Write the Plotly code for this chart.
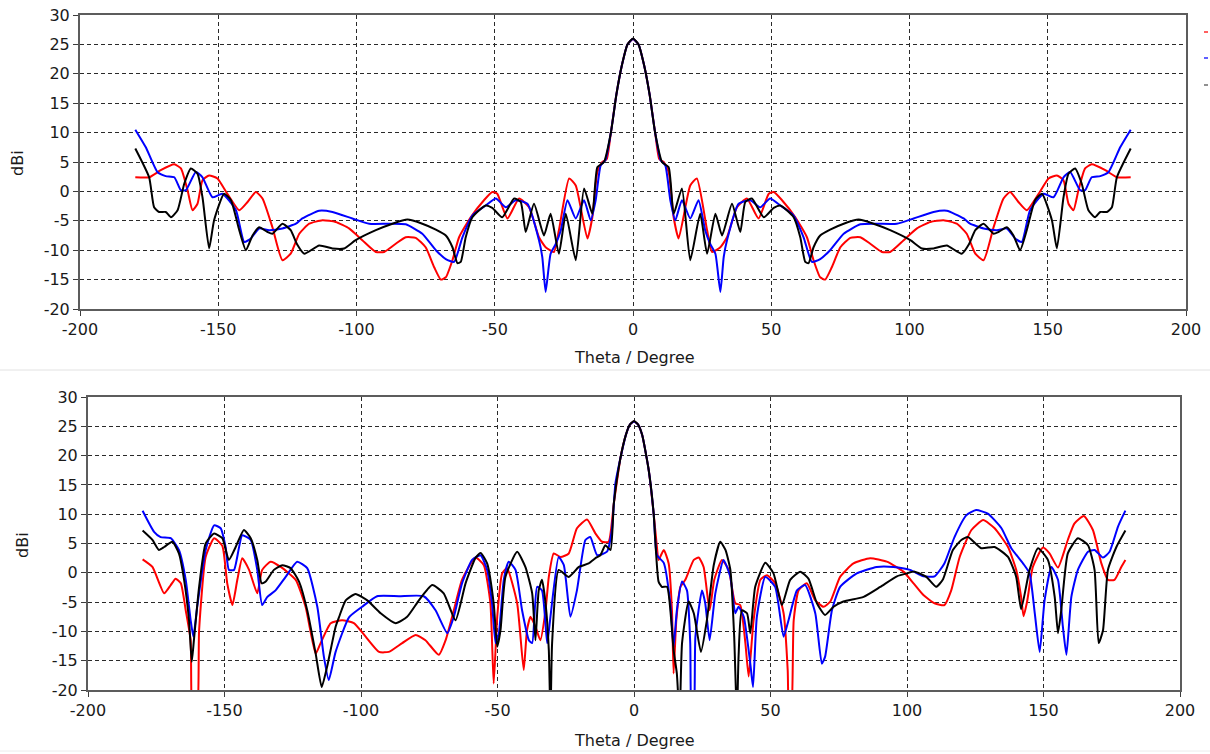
import plotly.graph_objects as go

# ---------------- data ----------------
x_ticks = [-200, -150, -100, -50, 0, 50, 100, 150, 200]
x_tick_labels = ["-200", "-150", "-100", "-50", "0", "50", "100", "150", "200"]
y_ticks = [-20, -15, -10, -5, 0, 5, 10, 15, 20, 25, 30]
y_tick_labels = ["-20", "-15", "-10", "-5", "0", "5", "10", "15", "20", "25", "30"]

# Top panel
top_red_theta = [-180, -175, -170.8, -165.9, -163.5, -161.1, -159.3, -157.5, -155.7, -153.3, -150.3, -146.7, -142.4, -139.4, -136.4, -134.0, -130.4, -126.8, -123.8, -120.7, -117.1, -112.3, -107.5, -102.7, -97.9, -93.0, -90.0, -85.8, -82.2, -78.6, -75.0, -71.9, -69.5, -67.7, -65.3, -62.9, -58.7, -53.9, -50.9, -49.1, -45.4, -41.2, -37.6, -34.0, -31.6, -28.6, -26.8, -23.1, -20.7, -16.5, -14.7, -12.9, -11.1, -9.5, -8, -6, -4, -2, 0,
                 2, 4, 6, 8, 9.5, 11.1, 12.9, 14.7, 16.5, 20.7, 23.1, 26.8, 28.6, 31.6, 34.0, 37.6, 41.2, 45.4, 49.1, 50.9, 53.9, 58.7, 62.9, 65.3, 67.7, 69.5, 71.9, 75.0, 78.6, 82.2, 85.8, 90.0, 93.0, 97.9, 102.7, 107.5, 112.3, 117.1, 120.7, 123.8, 126.8, 130.4, 134.0, 136.4, 139.4, 142.4, 146.7, 150.3, 153.3, 155.7, 157.5, 159.3, 161.1, 163.5, 165.9, 170.8, 175, 180]
top_red_dbi = [2.4, 2.4, 3.6, 4.6, 3.9, 0.2, -3.2, -2.1, 1.9, 2.7, 2.2, -0.4, -3.2, -1.8, -0.1, -1.2, -6.1, -11.7, -10.6, -7.2, -5.5, -4.9, -5.2, -6.3, -8.3, -10.3, -10.3, -8.9, -7.8, -7.9, -9.5, -12.9, -15.0, -14.6, -11.7, -7.8, -4.4, -1.5, -0.1, -0.4, -4.6, -1.2, -2.7, -7.8, -9.5, -10.3, -6.6, 2.2, 1.0, -8.0, -4.4, 3.3, 5.0, 5.5, 10, 16.5, 21.5, 25, 25.9,
               25, 21.5, 16.5, 10, 5.5, 5.0, 3.3, -4.4, -8.0, 1.0, 2.2, -6.6, -10.3, -9.5, -7.8, -2.7, -1.2, -4.6, -0.4, -0.1, -1.5, -4.4, -7.8, -11.7, -14.6, -15.0, -12.9, -9.5, -7.9, -7.8, -8.9, -10.3, -10.3, -8.3, -6.3, -5.2, -4.9, -5.5, -7.2, -10.6, -11.7, -6.1, -1.2, -0.1, -1.8, -3.2, -0.4, 2.2, 2.7, 1.9, -2.1, -3.2, 0.2, 3.9, 4.6, 3.6, 2.4, 2.4]

top_blue_theta = [-180, -176.2, -172.0, -169.0, -165.9, -163.5, -161.7, -158.1, -155.7, -152.1, -148.5, -143.6, -140.6, -138.2, -135.2, -131.6, -126.8, -121.9, -119.6, -113.5, -108.7, -101.5, -95.4, -88.2, -82.2, -76.2, -71.3, -67.7, -64.7, -61.7, -58.1, -53.3, -49.6, -46.0, -42.4, -38.2, -34.0, -32.8, -31.6, -29.8, -27.9, -26.1, -23.7, -20.7, -17.7, -15.3, -13.5, -11.7, -10, -8, -6, -4, -2, 0,
                  2, 4, 6, 8, 10, 11.7, 13.5, 15.3, 17.7, 20.7, 23.7, 26.1, 27.9, 29.8, 31.6, 32.8, 34.0, 38.2, 42.4, 46.0, 49.6, 53.3, 58.1, 61.7, 64.7, 67.7, 71.3, 76.2, 82.2, 88.2, 95.4, 101.5, 108.7, 113.5, 119.6, 121.9, 126.8, 131.6, 135.2, 138.2, 140.6, 143.6, 148.5, 152.1, 155.7, 158.1, 161.7, 163.5, 165.9, 169.0, 172.0, 176.2, 180]
top_blue_dbi = [10.5, 7.5, 3.3, 2.6, 2.4, 0.2, 0.2, 3.3, 2.4, -1.0, -0.4, -3.2, -8.6, -8.0, -6.3, -6.6, -6.3, -5.5, -4.6, -3.3, -3.5, -4.6, -5.5, -5.5, -5.6, -7.2, -10.0, -11.5, -12.0, -7.8, -4.1, -2.4, -1.2, -2.7, -1.5, -2.1, -8.3, -11.2, -17.1, -10.6, -8.9, -6.6, -1.5, -4.6, -1.5, -4.9, -1.5, 4.4, 5.3, 10, 16.5, 21.5, 25, 25.9,
                25, 21.5, 16.5, 10, 5.3, 4.4, -1.5, -4.9, -1.5, -4.6, -1.5, -6.6, -8.9, -10.6, -17.1, -11.2, -8.3, -2.1, -1.5, -2.7, -1.2, -2.4, -4.1, -7.8, -12.0, -11.5, -10.0, -7.2, -5.6, -5.5, -5.5, -4.6, -3.5, -3.3, -4.6, -5.5, -6.3, -6.6, -6.3, -8.0, -8.6, -3.2, -0.4, -1.0, 2.4, 3.3, 0.2, 0.2, 2.4, 2.6, 3.3, 7.5, 10.5]

top_black_theta = [-180, -175, -173.2, -171.4, -169, -167.1, -164.7, -162.3, -159.9, -157.5, -155.7, -153.3, -151.5, -147.9, -145.4, -142.4, -140.0, -137.6, -135.2, -132.2, -130.4, -126.8, -123.8, -121.5, -118.9, -113.5, -108.7, -104.5, -100.3, -93.0, -87.0, -81.6, -76.2, -71.3, -67.7, -65.3, -63.5, -62.3, -60.5, -58.1, -53.3, -50.9, -47.3, -43.0, -40.6, -38.8, -35.8, -32.2, -29.8, -26.8, -24.3, -20.7, -17.7, -14.7, -12.9, -10.5, -8, -6, -4, -2, 0,
                   2, 4, 6, 8, 10.5, 12.9, 14.7, 17.7, 20.7, 24.3, 26.8, 29.8, 32.2, 35.8, 38.8, 40.6, 43.0, 47.3, 50.9, 53.3, 58.1, 60.5, 62.3, 63.5, 65.3, 67.7, 71.3, 76.2, 81.6, 87.0, 93.0, 100.3, 104.5, 108.7, 113.5, 118.9, 121.5, 123.8, 126.8, 130.4, 132.2, 135.2, 137.6, 140.0, 142.4, 145.4, 147.9, 151.5, 153.3, 155.7, 157.5, 159.9, 162.3, 164.7, 167.1, 169, 171.4, 173.2, 175, 180]
top_black_dbi = [7.3, 2.4, -2.7, -3.5, -3.5, -4.4, -3.2, 1.3, 3.9, 3.0, -1.0, -9.7, -4.9, -0.4, -1.5, -6.6, -10.0, -7.5, -6.1, -6.9, -7.2, -5.5, -6.6, -9.0, -10.6, -9.2, -9.7, -9.7, -8.3, -6.6, -5.5, -4.8, -5.5, -6.5, -7.5, -9.5, -12.2, -12.0, -7.8, -4.4, -2.4, -2.8, -4.4, -1.2, -1.8, -6.9, -2.1, -7.5, -3.8, -10.6, -3.8, -11.7, 0.5, -3.8, 4.1, 5.0, 10, 16.5, 21.5, 25, 26.0,
                 25, 21.5, 16.5, 10, 5.0, 4.1, -3.8, 0.5, -11.7, -3.8, -10.6, -3.8, -7.5, -2.1, -6.9, -1.8, -1.2, -4.4, -2.8, -2.4, -4.4, -7.8, -12.0, -12.2, -9.5, -7.5, -6.5, -5.5, -4.8, -5.5, -6.6, -8.3, -9.7, -9.7, -9.2, -10.6, -9.0, -6.6, -5.5, -7.2, -6.9, -6.1, -7.5, -10.0, -6.6, -1.5, -0.4, -4.9, -9.7, -1.0, 3.0, 3.9, 1.3, -3.2, -4.4, -3.5, -3.5, -2.7, 2.4, 7.3]

# Bottom panel
bot_red_theta = [-180, -176.4, -172.1, -169.7, -167.9, -166.0, -164.2, -162.4, -161.6, -160.2, -159.3, -156.9, -153.8, -150.8, -149.0, -147.1, -145.3, -143.5, -141.0, -138.0, -136.2, -133.1, -129.4, -123.9, -120.3, -116.6, -114.8, -111.1, -106.9, -102.6, -98.3, -93.4, -89.8, -84.9, -80.0, -76.4, -71.5, -69.0, -66.0, -63.0, -58.1, -55.0, -52.6, -51.4, -50.1, -48.3, -46.5, -42.8, -40.4, -39.2, -37.9, -36.1, -34.3, -32.4, -31.2, -29.4, -26.9, -23.9, -20.9, -17.2, -14.1, -11.7, -9.3, -7.4, -5, -3, -1.5, 0,
                 1.5, 3, 5.4, 7.2, 8.4, 9.0, 10.9, 12.7, 13.9, 14.5, 15.5, 17.0, 18.8, 21.9, 23.7, 25.5, 27.7, 29.4, 32.2, 34.7, 37.1, 38.9, 40.8, 42.0, 43.8, 46.3, 48.7, 51.7, 54.8, 56.3, 56.9, 57.5, 58.5, 60.3, 63.3, 66.4, 69.4, 71.9, 75.5, 80.4, 86.5, 92.6, 98.7, 102.4, 106.0, 110.1, 113.7, 116.2, 119.3, 123.6, 127.9, 132.1, 137.0, 140.0, 141.8, 142.7, 144.0, 146.1, 149.8, 152.2, 155.3, 158.9, 161.3, 164.8, 168.1, 171.2, 173.6, 176.0, 178.5, 180]
bot_red_dbi = [2.3, 1.0, -3.5, -2.1, -1.0, -1.8, -6.4, -11.5, -25, -25, -9.8, 2.7, 5.9, 4.6, -1.8, -5.5, -1.2, 2.5, 0.5, -3.5, 0.5, 1.9, 1.0, -1.2, -5.8, -13.8, -12.0, -8.6, -8.1, -8.6, -10.9, -13.5, -13.5, -12.0, -10.6, -11.5, -14.0, -11.5, -6.4, -1.2, 2.6, 1.3, -5.2, -18.9, -7.5, -0.1, 0.8, -5.2, -16.6, -9.8, -7.5, -9.2, -11.5, -6.4, -0.7, 3.3, 2.7, 3.3, 7.6, 9.1, 6.7, 5.3, 5.3, 11.8, 19.5, 23.5, 25.3, 25.8,
               25.3, 23.5, 17.5, 10.1, 4.4, 2.2, 3.9, 1.6, -6.4, -17.2, -8.1, -2.4, -1.2, 2.2, 2.6, 1.0, -6.4, -1.2, 2.2, 0.5, -5.2, -5.5, -12.0, -17.7, -8.1, -1.2, -0.4, -1.8, -6.9, -16.6, -25, -25, -8.1, -3.0, -1.8, -4.7, -5.8, -4.9, -0.7, 1.6, 2.5, 1.9, 0.2, -1.8, -3.8, -5.2, -5.5, -3.0, 2.7, 7.3, 9.0, 7.6, 4.4, 0.5, -4.1, -7.4, -4.9, 1.0, 4.3, 3.3, 0.9, 5.6, 8.4, 9.7, 7.3, 1.6, -1.2, -1.2, 1.0, 2.2]

bot_blue_theta = [-180, -175.8, -173.4, -169.7, -166.7, -164.2, -162.4, -161.4, -160.0, -156.9, -153.8, -151.4, -149.6, -148.4, -146.5, -143.5, -140.4, -138.0, -136.2, -134.3, -131.3, -127.6, -123.4, -119.7, -116.0, -113.6, -111.8, -109.3, -104.4, -99.6, -94.1, -86.1, -77.0, -72.7, -68.4, -66.0, -63.0, -59.3, -56.2, -53.8, -52.0, -50.7, -49.5, -47.7, -45.9, -43.4, -41.0, -38.5, -37.3, -35.5, -33.7, -31.8, -30.6, -27.6, -25.7, -23.3, -20.9, -17.8, -16.0, -13.5, -9.9, -8.1, -6.8, -5, -3, -1.5, 0,
                  1.5, 3, 5.4, 7.2, 8.4, 10.9, 13.3, 14.5, 15.7, 17.6, 19.4, 20.6, 21.2, 21.8, 22.5, 24.9, 26.1, 27.7, 29.8, 32.8, 35.3, 37.1, 38.3, 40.2, 42.6, 43.6, 45.0, 48.1, 51.7, 54.8, 56.6, 59.7, 62.7, 66.4, 68.8, 70.0, 72.5, 75.5, 81.6, 88.9, 95.0, 101.1, 106.0, 110.1, 113.7, 117.4, 121.7, 125.3, 129.6, 134.6, 138.2, 142.5, 144.9, 146.8, 148.6, 150.4, 152.9, 155.3, 157.1, 158.4, 160.2, 162.6, 166.3, 168.7, 171.8, 174.2, 177.3, 180]
bot_blue_dbi = [10.6, 7.0, 6.1, 5.9, 3.9, -1.2, -8.1, -10.9, -5.8, 3.9, 8.1, 7.6, 4.4, 0.5, 0.5, 6.4, 5.6, 0.5, -5.5, -4.1, -3.0, -0.7, 1.9, 0.8, -5.8, -14.3, -18.3, -13.5, -7.6, -5.8, -4.0, -4.0, -4.0, -6.4, -10.3, -7.5, -1.8, 2.2, 3.0, 0.5, -5.2, -12.0, -10.3, -1.2, 1.9, 0.5, -6.4, -11.5, -12.0, -2.4, -3.0, -12.0, -7.5, 2.7, 1.3, -7.5, -3.0, 5.6, 6.1, 3.0, 3.6, 7.3, 15.3, 19.5, 23.5, 25.3, 25.8,
                25.3, 23.5, 17.5, 10.1, 3.0, 1.7, -5.2, -12.6, -6.4, -1.5, -3.0, -12.0, -25, -25, -10.9, -3.0, -5.2, -11.5, -3.5, 2.2, -0.7, -6.9, -5.8, -7.5, -15.5, -19.5, -7.5, -0.7, -2.4, -10.9, -8.1, -3.0, -2.1, -6.9, -15.5, -14.3, -6.4, -2.4, -0.1, 1.0, 1.0, 0.5, -0.6, -0.6, 1.6, 6.1, 9.8, 10.7, 10.1, 7.6, 4.2, 1.6, -0.1, -6.9, -13.5, -4.7, 1.0, -1.2, -9.2, -14.0, -4.1, 0.5, 3.6, 3.9, 2.6, 3.6, 7.9, 10.6]

bot_black_theta = [-180, -176.4, -174.0, -172.1, -169.1, -166.7, -164.8, -163.0, -162.0, -161.2, -159.3, -156.9, -153.8, -150.8, -148.4, -145.9, -142.9, -140.4, -138.0, -136.4, -134.9, -131.9, -128.8, -125.8, -122.7, -119.7, -116.6, -114.4, -112.4, -109.3, -108.0, -105.6, -102.0, -97.7, -92.8, -87.3, -83.1, -78.8, -73.9, -69.7, -65.4, -61.7, -58.1, -56.2, -53.8, -51.4, -50.1, -48.9, -47.1, -42.8, -39.8, -37.3, -36.1, -34.9, -33.7, -32.4, -31.2, -30.6, -30.0, -27.6, -23.9, -20.2, -16.6, -14.1, -12.3, -10.5, -8.6, -7.4, -5, -3, -1.5, 0,
                   1.5, 3, 5.4, 7.2, 8.0, 9.0, 10.2, 12.1, 14.5, 15.7, 16.7, 17.6, 20.0, 21.9, 24.5, 26.7, 29.2, 31.6, 33.5, 35.3, 36.7, 37.7, 38.3, 39.5, 41.4, 42.6, 44.4, 48.1, 51.1, 54.2, 57.2, 60.9, 63.9, 67.0, 70.0, 73.1, 76.7, 84.1, 90.2, 96.3, 99.9, 102.8, 107.1, 110.7, 113.2, 116.8, 119.9, 122.3, 127.2, 132.1, 137.0, 140.0, 141.8, 144.9, 148.0, 151.6, 154.1, 155.3, 156.5, 158.9, 162.6, 166.3, 168.7, 170.2, 171.8, 173.6, 176.7, 180]
bot_black_dbi = [7.2, 5.6, 3.9, 4.4, 5.3, 3.3, -1.2, -8.1, -15.2, -11.5, -2.4, 5.0, 6.7, 5.9, 2.2, 4.4, 7.3, 5.9, 2.2, -1.8, -1.5, 0.5, 1.3, 0.8, -1.5, -6.4, -13.8, -19.5, -16.0, -9.2, -7.5, -4.7, -3.6, -4.7, -6.9, -8.6, -7.5, -4.7, -2.1, -3.5, -8.1, -1.8, 2.5, 3.4, 1.6, -5.2, -12.6, -9.8, -0.7, 3.6, 1.0, -3.5, -11.5, -3.0, -1.2, -5.2, -13.2, -25, -12.0, 0.5, -0.7, 1.0, 1.6, 2.5, 3.0, 4.7, 3.9, 11.8, 19.5, 23.5, 25.3, 25.9,
                 25.3, 23.5, 17.5, 10.1, 4.0, -1.5, -2.4, -2.4, -13.2, -17.2, -25, -12.0, -4.9, -6.9, -13.5, -8.1, 1.3, 5.3, 3.9, 0.5, -10.9, -25, -14.3, -6.4, -6.9, -10.3, -2.4, 1.7, -0.1, -5.5, -1.2, 0.2, -1.0, -5.2, -7.2, -5.8, -4.9, -4.1, -2.4, -0.6, -0.1, 0.2, -0.7, -2.4, -1.1, 3.9, 5.6, 6.1, 4.2, 4.4, 2.7, -0.7, -6.2, 0.5, 4.2, 2.2, -4.1, -10.3, -6.4, 3.3, 5.9, 4.7, 0.5, -12.0, -9.8, 0.5, 4.4, 7.2]

for a, b in [(top_red_theta, top_red_dbi), (top_blue_theta, top_blue_dbi), (top_black_theta, top_black_dbi),
             (bot_red_theta, bot_red_dbi), (bot_blue_theta, bot_blue_dbi), (bot_black_theta, bot_black_dbi)]:
    assert len(a) == len(b), (len(a), len(b))

# ---------------- figure ----------------
W, H = 1210, 754
RED, BLUE, BLACK = "#ff0000", "#0000ff", "#000000"

fig = go.Figure()
series = [
    (top_red_theta, top_red_dbi, RED, "x", "y"),
    (top_blue_theta, top_blue_dbi, BLUE, "x", "y"),
    (top_black_theta, top_black_dbi, BLACK, "x", "y"),
    (bot_red_theta, bot_red_dbi, RED, "x2", "y2"),
    (bot_blue_theta, bot_blue_dbi, BLUE, "x2", "y2"),
    (bot_black_theta, bot_black_dbi, BLACK, "x2", "y2"),
]
for th, v, col, xa, ya in series:
    fig.add_trace(go.Scatter(x=th, y=v, mode="lines",
                             line=dict(color=col, width=2, shape="spline", smoothing=0.5),
                             xaxis=xa, yaxis=ya, showlegend=False, hoverinfo="skip"))

tick_font = dict(family="DejaVu Sans", size=16, color="#1a1a1a")
common = dict(showline=True, linecolor="#5c5c5c", linewidth=2, mirror=True,
              ticks="outside", ticklen=5, tickwidth=1, tickcolor="#3c3c3c",
              showgrid=True, gridcolor="#2a2a2a", gridwidth=1, griddash="4px,3px",
              zeroline=False, tickfont=tick_font, automargin=False)

def xd(a, b):
    return [a / W, b / W]

def yd(top, bottom):
    return [1 - bottom / H, 1 - top / H]

fig.update_layout(
    width=W, height=H, margin=dict(l=0, r=0, t=0, b=0, autoexpand=False),
    paper_bgcolor="white", plot_bgcolor="white",
    xaxis=dict(domain=xd(80, 1186), range=[-200, 200], tickvals=x_ticks, ticktext=x_tick_labels, anchor="y", **common),
    yaxis=dict(domain=yd(15, 309), range=[-20, 30], tickvals=y_ticks, ticktext=y_tick_labels, anchor="x", **common),
    xaxis2=dict(domain=xd(88, 1180), range=[-200, 200], tickvals=x_ticks, ticktext=x_tick_labels, anchor="y2", **common),
    yaxis2=dict(domain=yd(397, 690), range=[-20, 30], tickvals=y_ticks, ticktext=y_tick_labels, anchor="x2", **common),
)

title_font = dict(family="DejaVu Sans", size=16, color="#1a1a1a")
ann = [
    dict(text="Theta / Degree", x=634 / W, y=1 - 357 / H),
    dict(text="Theta / Degree", x=634 / W, y=1 - 740 / H),
    dict(text="dBi", x=18 / W, y=1 - 163 / H, textangle=-90),
    dict(text="dBi", x=22 / W, y=1 - 545 / H, textangle=-90),
]
for a in ann:
    fig.add_annotation(xref="paper", yref="paper", showarrow=False, font=title_font,
                       xanchor="center", yanchor="middle", **a)

shapes = [
    dict(type="line", xref="paper", yref="paper", x0=0, x1=1, y0=1 - 370 / H, y1=1 - 370 / H,
         line=dict(color="#e2e2e2", width=1)),
    dict(type="line", xref="paper", yref="paper", x0=0, x1=1, y0=1 - 751 / H, y1=1 - 751 / H,
         line=dict(color="#ececec", width=1)),
]
for yy, col in [(32, "#ff6060"), (58, "#6060ff"), (85, "#909090")]:
    shapes.append(dict(type="line", xref="paper", yref="paper", x0=1204 / W, x1=1208 / W,
                       y0=1 - yy / H, y1=1 - yy / H, line=dict(color=col, width=2)))
fig.update_layout(shapes=shapes)

fig.write_html("out.html")
